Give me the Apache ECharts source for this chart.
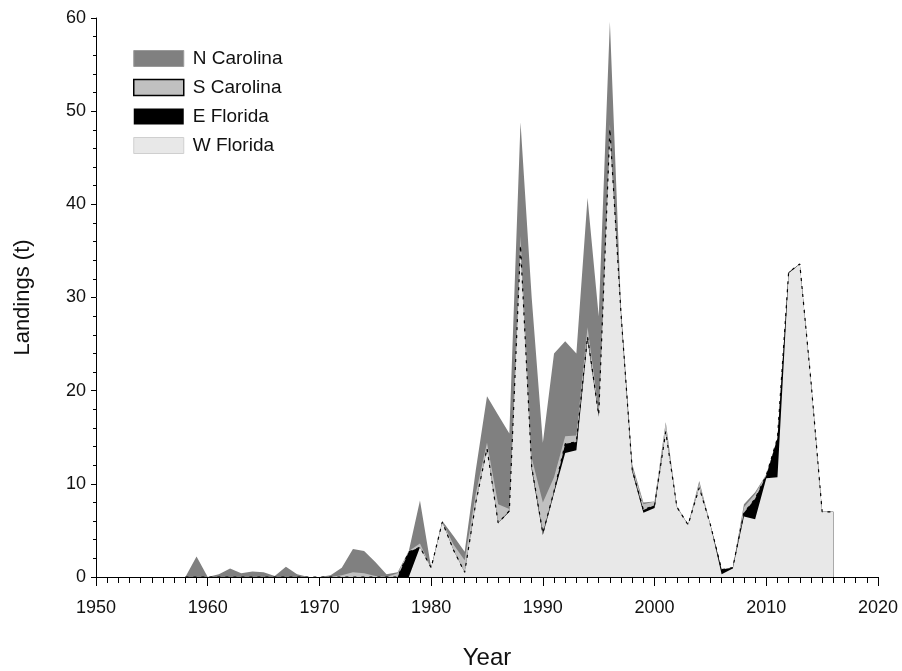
<!DOCTYPE html>
<html>
<head>
<meta charset="utf-8">
<script src="https://cdn.jsdelivr.net/npm/echarts@6/dist/echarts.min.js"></script>
<style>
html,body{margin:0;padding:0;background:#fff;}
#chart{width:902px;height:671px;}
</style>
</head>
<body>
<div id="chart"></div>
<script>
const years = [1958,1959,1960,1961,1962,1963,1964,1965,1966,1967,
  1968,1969,1970,1971,1972,1973,1974,1975,1976,1977,
  1978,1979,1980,1981,1982,1983,1984,1985,1986,1987,
  1988,1989,1990,1991,1992,1993,1994,1995,1996,1997,
  1998,1999,2000,2001,2002,2003,2004,2005,2006,2007,
  2008,2009,2010,2011,2012,2013,2014,2015,2016];

const wFlorida = [0,0,0,0,0,0,0,0,0,0,
  0,0,0,0,0,0,0,0,0,0,
  0,3.2,1.0,5.9,2.9,0.5,8.0,13.8,5.8,7.0,
  35.5,11.5,4.5,9.0,13.3,13.6,25.5,17.2,47.8,28.0,
  11.3,6.9,7.4,15.6,7.5,5.6,9.6,5.6,0.3,0.9,
  6.5,6.2,10.6,10.7,32.6,33.6,21.0,7.0,7.0];

const eFlorida = [0,0,0,0,0,0,0,0,0,0,
  0,0,0,0,0,0,0,0,0,0,
  2.7,0,0,0,0,0,0,0,0,0.1,
  0.1,0.3,0.2,0.2,1.0,0.9,0.3,0.2,0.3,0.2,
  0.2,0.3,0.3,0,0,0,0,0,0.5,0.1,
  0.4,2.2,0.3,4.2,0.1,0,0,0,0];

const sCarolina = [0,0,0,0,0,0,0,0,0,0,
  0,0,0,0,0.2,0.5,0.4,0.1,0,0.4,
  0.1,0.4,0,0,0.6,1.3,1.0,0.6,2.0,0.2,
  1.0,1.0,3.3,1.5,0.8,0.7,1.0,0.5,0.5,0.3,
  0.3,0.6,0.4,1.0,0.1,0,0.5,0,0,0,
  0.6,0.5,0.1,0,0,0,0,0,0];

const nCarolina = [0,2.2,0,0.3,0.9,0.4,0.6,0.5,0.1,1.1,
  0.3,0,0,0.2,0.8,2.5,2.4,1.5,0.3,0.1,
  0,4.6,0,0.1,0.9,0.9,2.5,5.0,9.6,8.1,
  12.2,17.2,6.4,13.3,10.2,8.8,13.9,10.1,11.0,0.2,
  0.3,0.2,0,0,0,0,0.2,0,0,0,
  0.3,0.2,0,0,0,0,0,0,0];

const xTicks = [1950,1960,1970,1980,1990,2000,2010,2020];
const yTicks = [0,10,20,30,40,50,60];

// cumulative stacks (bottom to top: W Florida, E Florida, S Carolina, N Carolina)
function cumulative(lists){
  return years.map((y,i)=>{
    let s = 0;
    lists.forEach(l => { s += l[i]; });
    return [y, Math.round(s*100)/100];
  });
}

const FONT = 'Liberation Sans, Arial, sans-serif';

function areaSeries(name, data, color, z, line){
  return {
    name: name,
    type: 'line',
    data: data,
    symbol: 'none',
    showSymbol: false,
    smooth: false,
    itemStyle: {color: color},
    lineStyle: line || {width: 0, color: color},
    areaStyle: {color: color, opacity: 1, origin: 'start'},
    emphasis: {disabled: true},
    z: z
  };
}

const chart = echarts.init(document.getElementById('chart'), null, {renderer:'canvas'});
chart.setOption({
  animation: false,
  backgroundColor: '#ffffff',
  grid: {left: 96, right: 24, top: 18, bottom: 94, containLabel: false, outerBoundsMode: 'none'},
  legend: {
    orient: 'vertical',
    left: 128, top: 44,
    itemWidth: 50, itemHeight: 16, itemGap: 10,
    icon: 'rect',
    textStyle: {fontFamily: FONT, fontSize: 19, color: '#111', padding: [0,0,0,4]},
    data: [
      {name: 'N Carolina', itemStyle: {color: '#808080', borderWidth: 1, borderColor: '#9a9a9a'}},
      {name: 'S Carolina', itemStyle: {color: '#c0c0c0', borderWidth: 1.5, borderColor: '#000'}},
      {name: 'E Florida', itemStyle: {color: '#000000', borderWidth: 0}},
      {name: 'W Florida', itemStyle: {color: '#e8e8e8', borderWidth: 1, borderColor: '#cfcfcf'}}
    ]
  },
  xAxis: {
    type: 'value',
    min: xTicks[0], max: xTicks[xTicks.length-1], interval: 10,
    name: 'Year', nameLocation: 'middle', nameGap: 69,
    nameTextStyle: {fontFamily: FONT, fontSize: 24, color: '#111'},
    axisLine: {show: true, onZero: false, lineStyle: {color: '#000', width: 1}},
    axisTick: {show: true, inside: false, length: 9, lineStyle: {color: '#000'}},
    minorTick: {show: true, splitNumber: 10, length: 6, lineStyle: {color: '#000'}},
    splitLine: {show: false},
    axisLabel: {fontFamily: FONT, fontSize: 18, color: '#111', margin: 22,
      formatter: v => xTicks.includes(v) ? String(v) : ''}
  },
  yAxis: {
    type: 'value',
    min: yTicks[0], max: yTicks[yTicks.length-1], interval: 10,
    name: 'Landings (t)', nameLocation: 'middle', nameGap: 62,
    nameTextStyle: {fontFamily: FONT, fontSize: 22, color: '#111'},
    axisLine: {show: true, lineStyle: {color: '#000', width: 1}},
    axisTick: {show: true, inside: false, length: 5, lineStyle: {color: '#000'}},
    minorTick: {show: true, splitNumber: 5, length: 3, lineStyle: {color: '#000'}},
    splitLine: {show: false},
    axisLabel: {fontFamily: FONT, fontSize: 18, color: '#111', margin: 10,
      formatter: v => yTicks.includes(v) ? String(v) : ''}
  },
  series: [
    areaSeries('N Carolina', cumulative([wFlorida, eFlorida, sCarolina, nCarolina]), '#808080', 1),
    areaSeries('S Carolina', cumulative([wFlorida, eFlorida, sCarolina]), '#c0c0c0', 2),
    areaSeries('E Florida', cumulative([wFlorida, eFlorida]), '#000000', 3),
    areaSeries('W Florida', cumulative([wFlorida]), '#e8e8e8', 4),
    {
      name: 'E Florida edge',
      type: 'line',
      data: cumulative([wFlorida, eFlorida]),
      symbol: 'none', showSymbol: false,
      lineStyle: {width: 1.2, color: '#000', type: [3, 5]},
      emphasis: {disabled: true},
      silent: true,
      z: 5
    }
  ]
});
</script>
</body>
</html>
